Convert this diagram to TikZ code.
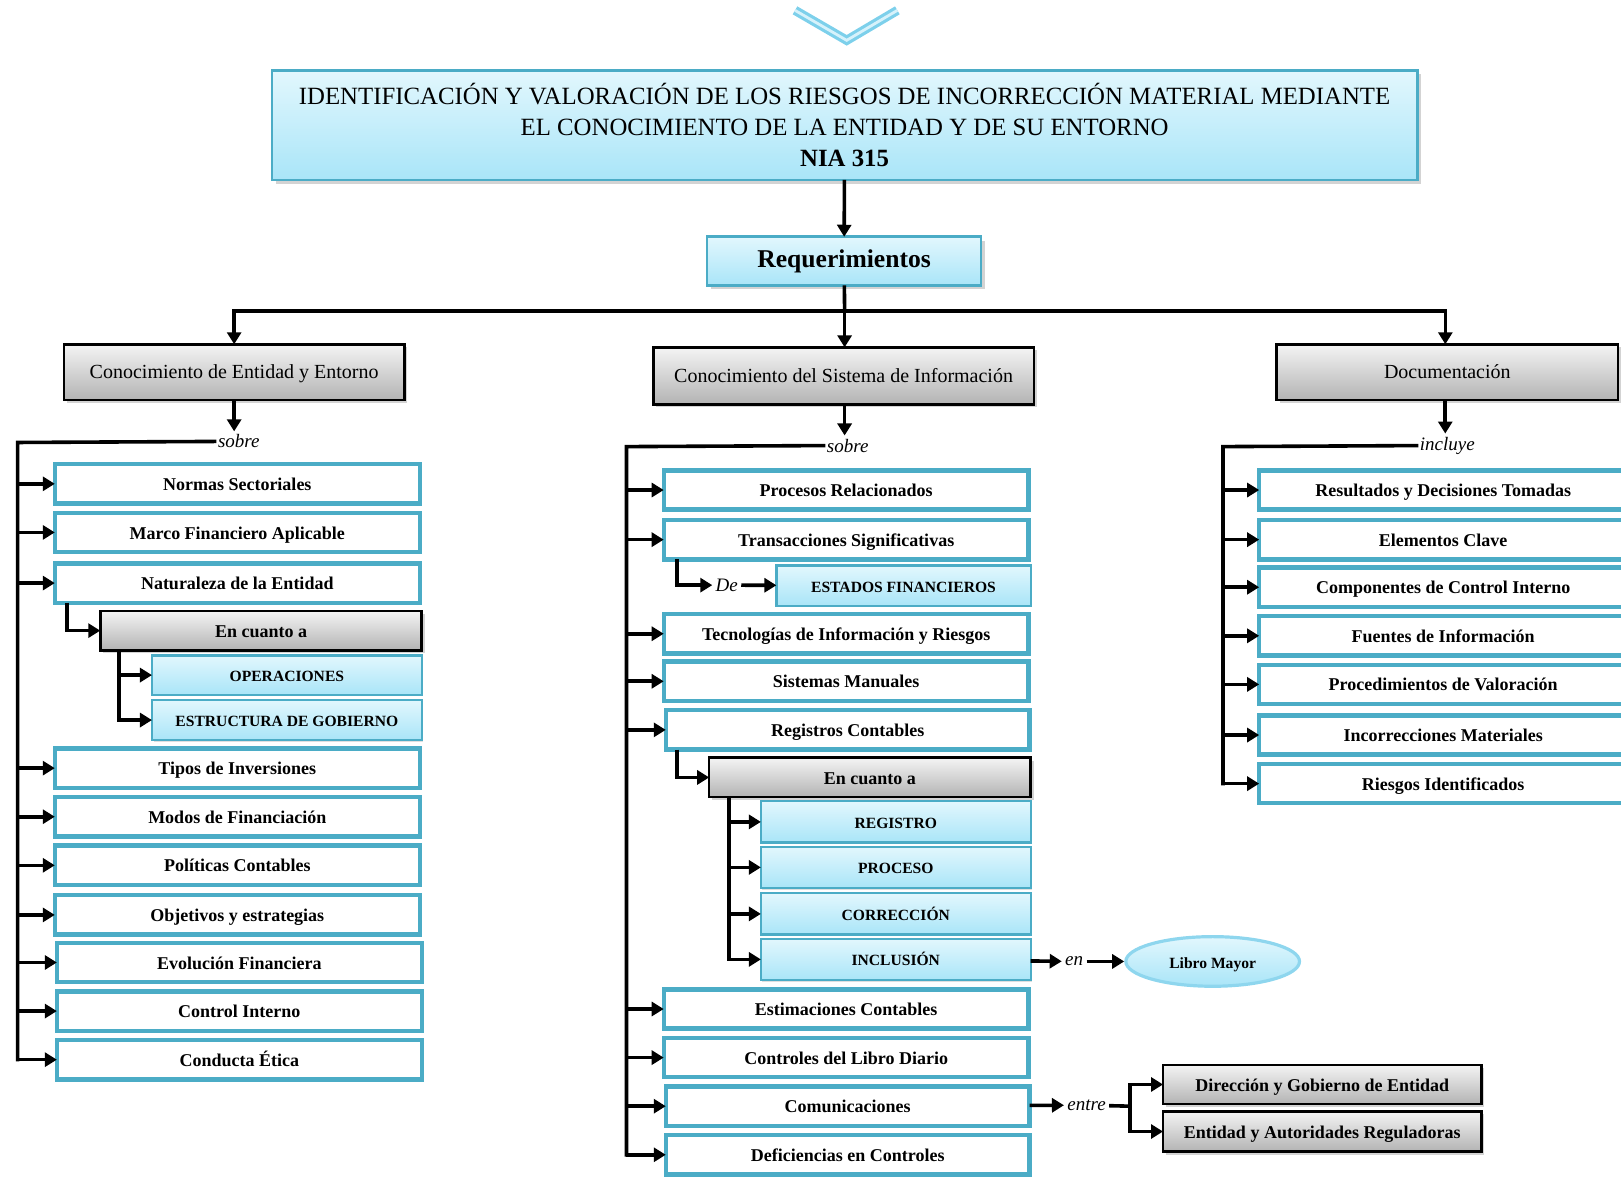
\documentclass[tikz,border=0pt]{standalone}
\usepackage{fontspec}
\setmainfont{Liberation Serif}
\usetikzlibrary{arrows.meta,shadows,shapes.geometric}
\definecolor{cyanb}{HTML}{4BACC6}
\definecolor{cyantop}{HTML}{E2F7FD}
\definecolor{cyanbot}{HTML}{A9E5F8}
\definecolor{graytop}{HTML}{F4F4F4}
\definecolor{graybot}{HTML}{B3B3B3}
\definecolor{chev}{HTML}{7DD0EB}
\definecolor{chevin}{HTML}{D6F2FB}
\definecolor{ovalb}{HTML}{8ED6EE}
\def\u{0.5169pt}
% \bx{style}{x1}{y1}{x2}{y2}{name}: a box node spanning the given corners
\newcommand\bx[6]{\node[#1, minimum width={(#4-#2)*\u}, minimum height={(#5-#3)*\u}]
  (#6) at ({(#2+#4)/2},{(#3+#5)/2})}
\begin{document}
\begin{tikzpicture}[x=0.5169pt,y=-0.5169pt,
  box/.style={inner sep=0pt, outer sep=0pt, align=center},
  oneline/.style={text height=0.68em, text depth=0.02em},
  itembox/.style={box, oneline, draw=cyanb, line width=2.2pt, fill=white,
    font=\bfseries\fontsize{9}{11}\selectfont,
    drop shadow={shadow xshift=0.8pt, shadow yshift=-0.8pt, opacity=0.25}},
  capbox/.style={box, oneline, draw=cyanb, line width=1.2pt, top color=cyantop, bottom color=cyanbot,
    font=\bfseries\fontsize{7.8}{9}\selectfont,
    drop shadow={shadow xshift=0.8pt, shadow yshift=-0.8pt, opacity=0.25}},
  graybox/.style={box, oneline, draw=black, line width=1.3pt, top color=graytop, bottom color=graybot,
    font=\fontsize{10}{12}\selectfont,
    drop shadow={shadow xshift=1.5pt, shadow yshift=-1.5pt, opacity=0.35}},
  smallgray/.style={graybox, font=\bfseries\fontsize{9}{11}\selectfont},
  headbox/.style={box, draw=cyanb, line width=1.3pt, top color=cyantop, bottom color=cyanbot,
    drop shadow={shadow xshift=2pt, shadow yshift=-2pt, opacity=0.35}},
  lbl/.style={font=\itshape\fontsize{9.5}{11}\selectfont, inner sep=1.5pt},
  conn/.style={line width=1.8pt, black},
  arr/.style={conn, -{Triangle[length=6pt,width=7pt]}},
]
\useasboundingbox (0,0) rectangle (1568,1139);

% top chevron
\coordinate (cvl) at (769,10);
\coordinate (cvm) at (819,39);
\coordinate (cvr) at (868,10);
\draw[chev, line width=4.6pt] (cvl) -- (cvm) -- (cvr);
\draw[chevin, line width=1.4pt] (cvl) -- (cvm) -- (cvr);

% header
\bx{headbox, font=\fontsize{12.4}{15.5}\selectfont}{263}{68}{1371}{174}{title}
  {IDENTIFICACIÓN Y VALORACIÓN DE LOS RIESGOS DE INCORRECCIÓN MATERIAL MEDIANTE\\
   EL CONOCIMIENTO DE LA ENTIDAD Y DE SU ENTORNO\\
   \textbf{NIA 315}};
\bx{headbox, oneline, font=\bfseries\fontsize{12.8}{15}\selectfont}{684}{229}{949}{276}{req} {Requerimientos};
\draw[arr] (title) -- (req);

% three branches
\bx{graybox}{62}{333}{391}{387}{ce} {Conocimiento de Entidad y Entorno};
\bx{graybox}{632}{336}{1000}{391}{cs} {Conocimiento del Sistema de Información};
\bx{graybox}{1235}{333}{1565}{387}{doc} {Documentación};
\coordinate (j) at (817,301);
\draw[conn] (req) -- (j);
\draw[arr] (j) -- (j |- cs.north);
\draw[arr] (j) -| (ce);
\draw[arr] (j) -| ([xshift=-1pt]doc.north);

% ---------- left column ----------
\node[lbl] (sob1) at (231,427) {sobre};
\draw[arr] (ce.south) -- (ce.south |- sob1.north);
\coordinate (tl) at (17,428);
\bx{itembox}{53}{449}{406}{487}{ns} {Normas Sectoriales};
\bx{itembox}{53}{496}{406}{534}{mfa} {Marco Financiero Aplicable};
\bx{itembox}{53}{545}{406}{583}{ne} {Naturaleza de la Entidad};
\bx{smallgray}{97}{591}{408}{629}{eca1} {En cuanto a};
\bx{capbox}{147}{634}{408}{672}{op} {OPERACIONES};
\bx{capbox}{147}{677}{408}{716}{eg} {ESTRUCTURA DE GOBIERNO};
\bx{itembox}{53}{724}{406}{762}{ti} {Tipos de Inversiones};
\bx{itembox}{53}{771}{406}{809}{mf} {Modos de Financiación};
\bx{itembox}{53}{818}{406}{856}{pc} {Políticas Contables};
\bx{itembox}{53}{866}{406}{904}{oe} {Objetivos y estrategias};
\bx{itembox}{55}{912}{408}{950}{ef} {Evolución Financiera};
\bx{itembox}{55}{959}{408}{997}{ci} {Control Interno};
\bx{itembox}{55}{1006}{408}{1044}{cet} {Conducta Ética};
\draw[conn, line cap=rect] (sob1.west) -- (tl) -- (tl |- cet);
\foreach \n in {ns,mfa,ne,ti,mf,pc,oe,ef,ci,cet}
  \draw[arr] (tl |- \n) -- (\n);
\draw[arr] (65,0 |- ne.south) |- (eca1);
\draw[arr] (115,0 |- eca1.south) |- (op);
\draw[arr] (115,0 |- eca1.south) |- (eg);

% ---------- centre column ----------
\node[lbl] (sob2) at (820,431) {sobre};
\draw[arr] (j |- cs.south) -- (j |- sob2.north);
\coordinate (tc) at (606,432);
\bx{itembox}{642}{455}{995}{493}{pr} {Procesos Relacionados};
\bx{itembox}{642}{503}{995}{541}{ts} {Transacciones Significativas};
\node[lbl] (de) at (703,566) {De};
\bx{capbox}{751}{547}{997}{586}{efin} {ESTADOS FINANCIEROS};
\bx{itembox}{642}{594}{995}{632}{tir} {Tecnologías de Información y Riesgos};
\bx{itembox}{642}{640}{995}{678}{sm} {Sistemas Manuales};
\bx{itembox}{644}{687}{996}{725}{rc} {Registros Contables};
\bx{smallgray}{686}{733}{997}{771}{eca2} {En cuanto a};
\bx{capbox}{736}{775}{997}{815}{reg} {REGISTRO};
\bx{capbox}{736}{819}{997}{859}{pro} {PROCESO};
\bx{capbox}{736}{864}{997}{904}{cor} {CORRECCIÓN};
\bx{capbox}{736}{908}{997}{948}{inc} {INCLUSIÓN};
\bx{itembox}{642}{957}{995}{995}{est} {Estimaciones Contables};
\bx{itembox}{642}{1004}{995}{1042}{cld} {Controles del Libro Diario};
\bx{itembox}{644}{1051}{996}{1089}{com} {Comunicaciones};
\bx{itembox}{644}{1098}{996}{1136}{dc} {Deficiencias en Controles};
\draw[conn, line cap=rect] (sob2.west) -- (tc) -- (tc |- dc);
\foreach \n in {pr,ts,tir,sm,rc,est,cld,com,dc}
  \draw[arr] (tc |- \n) -- (\n);
\draw[arr] (655,0 |- ts.south) |- (de);
\draw[arr] (de) -- (efin);
\draw[arr] (655,0 |- rc.south) |- (eca2);
\foreach \n in {reg,pro,cor,inc}
  \draw[arr] (705,0 |- eca2.south) |- (\n);

% Libro Mayor
\node[lbl] (en) at (1039,930) {en};
\node[ellipse, draw=ovalb, line width=1.6pt, top color=cyantop, bottom color=cyanbot,
  minimum width=168*\u, minimum height=48*\u, inner sep=0pt, oneline,
  font=\bfseries\fontsize{7.8}{9}\selectfont] (lm) at (1173,930) {Libro Mayor};
\draw[arr] (inc) -- (en);
\draw[arr] (en) -- (lm);

% entre
\node[lbl] (entre) at (1051,1069) {entre};
\bx{smallgray}{1125}{1030}{1433}{1068}{dge} {Dirección y Gobierno de Entidad};
\bx{smallgray}{1125}{1075}{1433}{1114}{ear} {Entidad y Autoridades Reguladoras};
\coordinate (jx) at (1093,1070);
\draw[arr] (com) -- (entre);
\draw[conn] (entre) -- (jx);
\draw[arr] (jx) |- (dge);
\draw[arr] (jx) |- (ear);

% ---------- right column ----------
\node[lbl] (incl) at (1400,431) {incluye};
\coordinate (jd) at (1398,387);
\draw[arr] (jd) -- (jd |- incl.north);
\coordinate (tr) at (1183,432);
\bx{itembox}{1218}{455}{1574}{493}{rdt} {Resultados y Decisiones Tomadas};
\bx{itembox}{1218}{503}{1574}{541}{ec} {Elementos Clave};
\bx{itembox}{1218}{549}{1574}{587}{cci} {Componentes de Control Interno};
\bx{itembox}{1218}{596}{1574}{634}{fi} {Fuentes de Información};
\bx{itembox}{1218}{643}{1574}{681}{pv} {Procedimientos de Valoración};
\bx{itembox}{1218}{692}{1574}{730}{im} {Incorrecciones Materiales};
\bx{itembox}{1218}{739}{1574}{777}{ri} {Riesgos Identificados};
\draw[conn, line cap=rect] (incl.west) -- (tr) -- (tr |- ri);
\foreach \n in {rdt,ec,cci,fi,pv,im,ri}
  \draw[arr] (tr |- \n) -- (\n);
\end{tikzpicture}
\end{document}
